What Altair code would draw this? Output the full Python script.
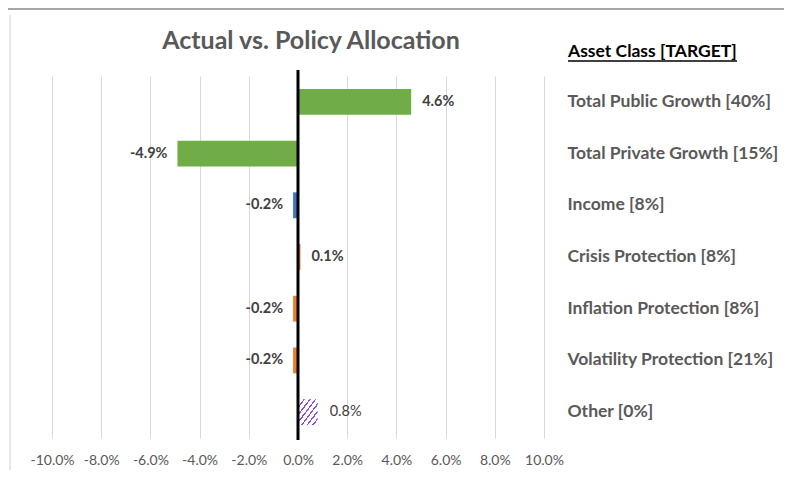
import altair as alt
import pandas as pd

categories = [
    "Total Public Growth [40%]",
    "Total Private Growth [15%]",
    "Income [8%]",
    "Crisis Protection [8%]",
    "Inflation Protection [8%]",
    "Volatility Protection [21%]",
    "Other [0%]",
]
values_pct = [4.6, -4.9, -0.2, 0.1, -0.2, -0.2, 0.8]
groups = ["Growth", "Growth", "Income", "Protection", "Protection", "Protection", "Other"]
x_ticks_pct = [-10, -8, -6, -4, -2, 0, 2, 4, 6, 8, 10]
title_text = "Actual vs. Policy Allocation"
header_text = "Asset Class [TARGET]"

df = pd.DataFrame({
    "cat": categories,
    "val": [v / 100 for v in values_pct],
    "grp": groups,
    "label": [f"{v:.1f}%" for v in values_pct],
})

W, H = 492, 362
FONT = "Lato"
GREY = "#595959"

x_enc = alt.X(
    "val:Q",
    scale=alt.Scale(domain=[-0.1, 0.1], nice=False, zero=False),
    axis=alt.Axis(
        values=[t / 100 for t in x_ticks_pct],
        labelExpr="replace(format(datum.value, '.1%'), '\u2212', '-')",
        grid=True, gridColor="#d9d9d9", gridWidth=1,
        domain=False, ticks=False, labelPadding=15, labelOverlap=False, labelFlush=False,
        labelFont=FONT, labelFontSize=14, labelColor=GREY,
        title=None,
    ),
)
y_enc = alt.Y(
    "cat:N",
    sort=categories,
    scale=alt.Scale(paddingInner=0.5, paddingOuter=0.25),
    axis=alt.Axis(
        orient="right", domain=False, ticks=False, grid=False,
        labelAlign="left", labelPadding=23, labelLimit=400,
        labelFont=FONT, labelFontSize=17.5, labelFontWeight="bold", labelColor=GREY,
        title=None,
    ),
)

base = alt.Chart(df)

bars = base.transform_filter("datum.grp != 'Other'").mark_bar().encode(
    x=x_enc, y=y_enc,
    color=alt.Color("grp:N",
                    scale=alt.Scale(domain=["Growth", "Income", "Protection"],
                                    range=["#70AD47", "#4472C4", "#ED7D31"]),
                    legend=None),
)

stops = []
n = 7
for i in range(n):
    stops += [
        alt.GradientStop(offset=i / n, color="#8a4fd0"),
        alt.GradientStop(offset=(i + 0.28) / n, color="#8a4fd0"),
        alt.GradientStop(offset=(i + 0.28) / n, color="#ffffff"),
        alt.GradientStop(offset=(i + 1) / n, color="#ffffff"),
    ]
hatch = alt.Gradient(gradient="linear", stops=stops, x1=0, y1=0, x2=1, y2=1)

other_bar = base.transform_filter("datum.grp == 'Other'").mark_bar(color=hatch).encode(
    x=x_enc, y=y_enc,
)

zero_rule = alt.Chart(pd.DataFrame({"z": [0]})).mark_rule(color="black", strokeWidth=3).encode(
    x=alt.X("z:Q"), y=alt.value(-6), y2=alt.value(H + 2)
)

txt_pos = base.transform_filter("datum.val > 0 && datum.grp != 'Other'").mark_text(
    align="left", dx=11, font=FONT, fontSize=14.5, fontWeight="bold", color="#404040"
).encode(x=x_enc, y=y_enc, text="label:N")

txt_neg = base.transform_filter("datum.val < 0").mark_text(
    align="right", dx=-10, font=FONT, fontSize=14.5, fontWeight="bold", color="#404040"
).encode(x=x_enc, y=y_enc, text="label:N")

txt_other = base.transform_filter("datum.grp == 'Other'").mark_text(
    align="left", dx=12, font=FONT, fontSize=14.5, fontWeight="normal", color="#404040"
).encode(x=x_enc, y=y_enc, text="label:N")

deco = alt.Chart(pd.DataFrame({"t": [title_text], "h": [header_text]}))
title_mark = deco.mark_text(
    align="center", baseline="alphabetic", font=FONT, fontSize=25, fontWeight="bold", color=GREY
).encode(x=alt.value(W / 2 + 13), y=alt.value(-27), text="t:N")
header_mark = deco.mark_text(
    align="left", baseline="alphabetic", font=FONT, fontSize=17.5, fontWeight="bold", color="#000000"
).encode(x=alt.value(W + 24), y=alt.value(-19), text="h:N")
underline = deco.mark_rule(color="black", strokeWidth=1.3).encode(
    x=alt.value(W + 24), x2=alt.value(W + 193), y=alt.value(-15)
)
top_border = deco.mark_rule(color="#a6a6a6", strokeWidth=2).encode(
    x=alt.value(-60), x2=alt.value(745), y=alt.value(-67)
)
left_border = deco.mark_rule(color="#d0d0d0", strokeWidth=1).encode(
    x=alt.value(-42), y=alt.value(-61), y2=alt.value(410)
)

chart = alt.layer(
    bars, other_bar, zero_rule, txt_pos, txt_neg, txt_other,
    title_mark, header_mark, underline, top_border, left_border
).properties(
    width=W, height=H,
    padding={"left": 44, "top": 68, "right": 240, "bottom": 32},
    autosize=alt.AutoSizeParams(type="none"),
).configure_view(stroke=None)

chart.save("out.html", embed_options={"renderer": "svg", "actions": False})
